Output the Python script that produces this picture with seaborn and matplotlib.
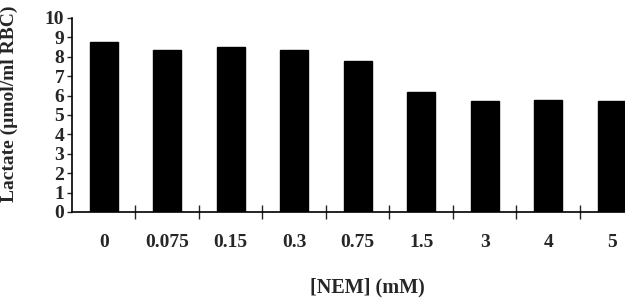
import matplotlib
matplotlib.use("Agg")
import matplotlib.pyplot as plt
import pandas as pd
import seaborn as sns

nem = ['0', '0.075', '0.15', '0.3', '0.75', '1.5', '3', '4', '5']
lactate = [8.76, 8.35, 8.5, 8.35, 7.78, 6.18, 5.72, 5.77, 5.74]

df = pd.DataFrame({'NEM': nem, 'Lactate': lactate})

sns.set_style("white")
plt.rcParams['font.family'] = ['Liberation Serif', 'DejaVu Serif']
plt.rcParams['font.weight'] = 'bold'

fig = plt.figure(figsize=(6.25, 2.98), dpi=100)
ax = fig.add_axes([72 / 625, 1 - 212 / 298, 553 / 625, 194 / 298])

sns.barplot(data=df, x='NEM', y='Lactate', color='black', width=0.44,
            saturation=1, edgecolor='black', ax=ax)

ax.set_ylim(0, 10)
ax.set_xlim(-0.5, 8.21)
ax.set_yticks(range(0, 11))
ax.tick_params(axis='y', direction='out', length=3.6, width=1, pad=2,
               labelsize=14, left=True)
for lab in ax.get_yticklabels():
    lab.set_fontweight('bold')

ax.set_xticks(range(len(nem)))
ax.set_xticklabels(nem, fontweight='bold', fontsize=14)
ax.tick_params(axis='x', which='major', length=0, pad=16)
ax.set_xticks([i + 0.5 for i in range(len(nem) - 1)], minor=True)
ax.tick_params(axis='x', which='minor', direction='inout', length=10,
               width=1, bottom=True)

for s in ['top', 'right']:
    ax.spines[s].set_visible(False)
for s in ['left', 'bottom']:
    ax.spines[s].set_color('black')
    ax.spines[s].set_linewidth(1.2)

ax.set_ylabel('Lactate (µmol/ml RBC)', fontsize=14, fontweight='bold')
ax.yaxis.set_label_coords(-0.098, 0.56)
ax.set_xlabel('[NEM] (mM)', fontsize=14.5, fontweight='bold')
ax.xaxis.set_label_coords(0.535, -0.335)

fig.savefig('out.png', dpi=100)
